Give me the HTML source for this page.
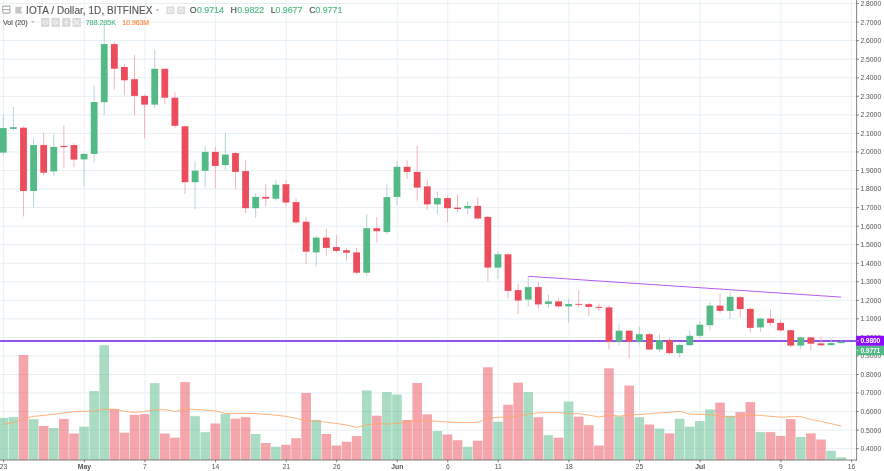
<!DOCTYPE html><html><head><meta charset="utf-8"><title>IOTA / Dollar</title>
<style>html,body{margin:0;padding:0;background:#fff;}body{width:884px;height:471px;overflow:hidden;position:relative;font-family:"Liberation Sans",sans-serif;}svg{position:absolute;left:0;top:0;display:block;will-change:transform;opacity:0.999}text{font-family:"Liberation Sans",sans-serif;}</style></head><body>
<svg width="884" height="471" viewBox="0 0 884 471">
<rect x="0" y="0" width="884" height="471" fill="#ffffff"/>
<g stroke="#e6eef4" stroke-width="1" fill="none">
<line x1="0" y1="448.70" x2="856.6" y2="448.70"/>
<line x1="0" y1="430.15" x2="856.6" y2="430.15"/>
<line x1="0" y1="411.61" x2="856.6" y2="411.61"/>
<line x1="0" y1="393.06" x2="856.6" y2="393.06"/>
<line x1="0" y1="374.51" x2="856.6" y2="374.51"/>
<line x1="0" y1="355.96" x2="856.6" y2="355.96"/>
<line x1="0" y1="337.41" x2="856.6" y2="337.41"/>
<line x1="0" y1="318.87" x2="856.6" y2="318.87"/>
<line x1="0" y1="300.32" x2="856.6" y2="300.32"/>
<line x1="0" y1="281.77" x2="856.6" y2="281.77"/>
<line x1="0" y1="263.22" x2="856.6" y2="263.22"/>
<line x1="0" y1="244.67" x2="856.6" y2="244.67"/>
<line x1="0" y1="226.13" x2="856.6" y2="226.13"/>
<line x1="0" y1="207.58" x2="856.6" y2="207.58"/>
<line x1="0" y1="189.03" x2="856.6" y2="189.03"/>
<line x1="0" y1="170.48" x2="856.6" y2="170.48"/>
<line x1="0" y1="151.93" x2="856.6" y2="151.93"/>
<line x1="0" y1="133.39" x2="856.6" y2="133.39"/>
<line x1="0" y1="114.84" x2="856.6" y2="114.84"/>
<line x1="0" y1="96.29" x2="856.6" y2="96.29"/>
<line x1="0" y1="77.74" x2="856.6" y2="77.74"/>
<line x1="0" y1="59.19" x2="856.6" y2="59.19"/>
<line x1="0" y1="40.65" x2="856.6" y2="40.65"/>
<line x1="0" y1="22.10" x2="856.6" y2="22.10"/>
<line x1="0" y1="3.55" x2="856.6" y2="3.55"/>
<line x1="3.59" y1="0" x2="3.59" y2="460" stroke="#eaf1f6"/>
<line x1="84.35" y1="0" x2="84.35" y2="460" stroke="#eaf1f6"/>
<line x1="144.92" y1="0" x2="144.92" y2="460" stroke="#eaf1f6"/>
<line x1="215.59" y1="0" x2="215.59" y2="460" stroke="#eaf1f6"/>
<line x1="286.25" y1="0" x2="286.25" y2="460" stroke="#eaf1f6"/>
<line x1="336.73" y1="0" x2="336.73" y2="460" stroke="#eaf1f6"/>
<line x1="397.30" y1="0" x2="397.30" y2="460" stroke="#eaf1f6"/>
<line x1="447.77" y1="0" x2="447.77" y2="460" stroke="#eaf1f6"/>
<line x1="498.25" y1="0" x2="498.25" y2="460" stroke="#eaf1f6"/>
<line x1="568.91" y1="0" x2="568.91" y2="460" stroke="#eaf1f6"/>
<line x1="639.57" y1="0" x2="639.57" y2="460" stroke="#eaf1f6"/>
<line x1="700.14" y1="0" x2="700.14" y2="460" stroke="#eaf1f6"/>
<line x1="780.90" y1="0" x2="780.90" y2="460" stroke="#eaf1f6"/>
<line x1="851.57" y1="0" x2="851.57" y2="460" stroke="#eaf1f6"/>
</g>
<g>
<rect x="-1.51" y="417.90" width="9.6" height="42.10" fill="#53b987" fill-opacity="0.5"/>
<rect x="8.58" y="417.20" width="9.6" height="42.80" fill="#53b987" fill-opacity="0.5"/>
<rect x="18.68" y="355.00" width="9.6" height="105.00" fill="#eb4d5c" fill-opacity="0.5"/>
<rect x="28.77" y="419.20" width="9.6" height="40.80" fill="#53b987" fill-opacity="0.5"/>
<rect x="38.87" y="426.00" width="9.6" height="34.00" fill="#eb4d5c" fill-opacity="0.5"/>
<rect x="48.96" y="428.00" width="9.6" height="32.00" fill="#53b987" fill-opacity="0.5"/>
<rect x="59.06" y="418.90" width="9.6" height="41.10" fill="#eb4d5c" fill-opacity="0.5"/>
<rect x="69.16" y="433.50" width="9.6" height="26.50" fill="#eb4d5c" fill-opacity="0.5"/>
<rect x="79.25" y="426.70" width="9.6" height="33.30" fill="#53b987" fill-opacity="0.5"/>
<rect x="89.34" y="391.10" width="9.6" height="68.90" fill="#53b987" fill-opacity="0.5"/>
<rect x="99.44" y="345.30" width="9.6" height="114.70" fill="#53b987" fill-opacity="0.5"/>
<rect x="109.54" y="409.20" width="9.6" height="50.80" fill="#eb4d5c" fill-opacity="0.5"/>
<rect x="119.63" y="432.70" width="9.6" height="27.30" fill="#eb4d5c" fill-opacity="0.5"/>
<rect x="129.72" y="414.90" width="9.6" height="45.10" fill="#eb4d5c" fill-opacity="0.5"/>
<rect x="139.82" y="414.20" width="9.6" height="45.80" fill="#eb4d5c" fill-opacity="0.5"/>
<rect x="149.91" y="383.10" width="9.6" height="76.90" fill="#53b987" fill-opacity="0.5"/>
<rect x="160.01" y="433.50" width="9.6" height="26.50" fill="#eb4d5c" fill-opacity="0.5"/>
<rect x="170.10" y="437.70" width="9.6" height="22.30" fill="#eb4d5c" fill-opacity="0.5"/>
<rect x="180.20" y="382.10" width="9.6" height="77.90" fill="#eb4d5c" fill-opacity="0.5"/>
<rect x="190.29" y="416.20" width="9.6" height="43.80" fill="#53b987" fill-opacity="0.5"/>
<rect x="200.39" y="432.20" width="9.6" height="27.80" fill="#53b987" fill-opacity="0.5"/>
<rect x="210.49" y="423.50" width="9.6" height="36.50" fill="#eb4d5c" fill-opacity="0.5"/>
<rect x="220.58" y="413.90" width="9.6" height="46.10" fill="#53b987" fill-opacity="0.5"/>
<rect x="230.68" y="418.70" width="9.6" height="41.30" fill="#eb4d5c" fill-opacity="0.5"/>
<rect x="240.77" y="417.20" width="9.6" height="42.80" fill="#eb4d5c" fill-opacity="0.5"/>
<rect x="250.87" y="434.00" width="9.6" height="26.00" fill="#53b987" fill-opacity="0.5"/>
<rect x="260.96" y="443.00" width="9.6" height="17.00" fill="#eb4d5c" fill-opacity="0.5"/>
<rect x="271.06" y="446.80" width="9.6" height="13.20" fill="#53b987" fill-opacity="0.5"/>
<rect x="281.15" y="444.80" width="9.6" height="15.20" fill="#eb4d5c" fill-opacity="0.5"/>
<rect x="291.25" y="438.20" width="9.6" height="21.80" fill="#eb4d5c" fill-opacity="0.5"/>
<rect x="301.34" y="392.90" width="9.6" height="67.10" fill="#eb4d5c" fill-opacity="0.5"/>
<rect x="311.44" y="419.90" width="9.6" height="40.10" fill="#53b987" fill-opacity="0.5"/>
<rect x="321.53" y="434.00" width="9.6" height="26.00" fill="#eb4d5c" fill-opacity="0.5"/>
<rect x="331.62" y="445.50" width="9.6" height="14.50" fill="#eb4d5c" fill-opacity="0.5"/>
<rect x="341.72" y="441.70" width="9.6" height="18.30" fill="#eb4d5c" fill-opacity="0.5"/>
<rect x="351.81" y="436.00" width="9.6" height="24.00" fill="#eb4d5c" fill-opacity="0.5"/>
<rect x="361.91" y="390.40" width="9.6" height="69.60" fill="#53b987" fill-opacity="0.5"/>
<rect x="372.00" y="415.70" width="9.6" height="44.30" fill="#eb4d5c" fill-opacity="0.5"/>
<rect x="382.10" y="392.10" width="9.6" height="67.90" fill="#53b987" fill-opacity="0.5"/>
<rect x="392.19" y="394.60" width="9.6" height="65.40" fill="#53b987" fill-opacity="0.5"/>
<rect x="402.29" y="419.90" width="9.6" height="40.10" fill="#eb4d5c" fill-opacity="0.5"/>
<rect x="412.39" y="383.00" width="9.6" height="77.00" fill="#eb4d5c" fill-opacity="0.5"/>
<rect x="422.48" y="414.40" width="9.6" height="45.60" fill="#eb4d5c" fill-opacity="0.5"/>
<rect x="432.58" y="431.00" width="9.6" height="29.00" fill="#53b987" fill-opacity="0.5"/>
<rect x="442.67" y="434.50" width="9.6" height="25.50" fill="#eb4d5c" fill-opacity="0.5"/>
<rect x="452.77" y="440.20" width="9.6" height="19.80" fill="#eb4d5c" fill-opacity="0.5"/>
<rect x="462.86" y="446.80" width="9.6" height="13.20" fill="#53b987" fill-opacity="0.5"/>
<rect x="472.96" y="440.70" width="9.6" height="19.30" fill="#eb4d5c" fill-opacity="0.5"/>
<rect x="483.05" y="367.30" width="9.6" height="92.70" fill="#eb4d5c" fill-opacity="0.5"/>
<rect x="493.15" y="421.70" width="9.6" height="38.30" fill="#53b987" fill-opacity="0.5"/>
<rect x="503.24" y="404.70" width="9.6" height="55.30" fill="#eb4d5c" fill-opacity="0.5"/>
<rect x="513.34" y="382.60" width="9.6" height="77.40" fill="#eb4d5c" fill-opacity="0.5"/>
<rect x="523.43" y="392.10" width="9.6" height="67.90" fill="#53b987" fill-opacity="0.5"/>
<rect x="533.53" y="417.20" width="9.6" height="42.80" fill="#eb4d5c" fill-opacity="0.5"/>
<rect x="543.62" y="435.20" width="9.6" height="24.80" fill="#53b987" fill-opacity="0.5"/>
<rect x="553.72" y="437.70" width="9.6" height="22.30" fill="#eb4d5c" fill-opacity="0.5"/>
<rect x="563.81" y="401.60" width="9.6" height="58.40" fill="#53b987" fill-opacity="0.5"/>
<rect x="573.91" y="416.70" width="9.6" height="43.30" fill="#eb4d5c" fill-opacity="0.5"/>
<rect x="584.00" y="425.20" width="9.6" height="34.80" fill="#eb4d5c" fill-opacity="0.5"/>
<rect x="594.10" y="445.50" width="9.6" height="14.50" fill="#eb4d5c" fill-opacity="0.5"/>
<rect x="604.19" y="368.30" width="9.6" height="91.70" fill="#eb4d5c" fill-opacity="0.5"/>
<rect x="614.29" y="416.40" width="9.6" height="43.60" fill="#53b987" fill-opacity="0.5"/>
<rect x="624.38" y="385.60" width="9.6" height="74.40" fill="#eb4d5c" fill-opacity="0.5"/>
<rect x="634.48" y="417.20" width="9.6" height="42.80" fill="#53b987" fill-opacity="0.5"/>
<rect x="644.57" y="424.50" width="9.6" height="35.50" fill="#eb4d5c" fill-opacity="0.5"/>
<rect x="654.67" y="428.50" width="9.6" height="31.50" fill="#53b987" fill-opacity="0.5"/>
<rect x="664.76" y="433.40" width="9.6" height="26.60" fill="#eb4d5c" fill-opacity="0.5"/>
<rect x="674.86" y="418.80" width="9.6" height="41.20" fill="#53b987" fill-opacity="0.5"/>
<rect x="684.95" y="426.70" width="9.6" height="33.30" fill="#53b987" fill-opacity="0.5"/>
<rect x="695.05" y="421.10" width="9.6" height="38.90" fill="#53b987" fill-opacity="0.5"/>
<rect x="705.14" y="409.40" width="9.6" height="50.60" fill="#53b987" fill-opacity="0.5"/>
<rect x="715.24" y="402.60" width="9.6" height="57.40" fill="#eb4d5c" fill-opacity="0.5"/>
<rect x="725.33" y="415.80" width="9.6" height="44.20" fill="#53b987" fill-opacity="0.5"/>
<rect x="735.43" y="412.10" width="9.6" height="47.90" fill="#eb4d5c" fill-opacity="0.5"/>
<rect x="745.52" y="402.10" width="9.6" height="57.90" fill="#eb4d5c" fill-opacity="0.5"/>
<rect x="755.62" y="432.10" width="9.6" height="27.90" fill="#53b987" fill-opacity="0.5"/>
<rect x="765.71" y="432.10" width="9.6" height="27.90" fill="#eb4d5c" fill-opacity="0.5"/>
<rect x="775.81" y="435.90" width="9.6" height="24.10" fill="#eb4d5c" fill-opacity="0.5"/>
<rect x="785.90" y="419.10" width="9.6" height="40.90" fill="#eb4d5c" fill-opacity="0.5"/>
<rect x="796.00" y="437.00" width="9.6" height="23.00" fill="#53b987" fill-opacity="0.5"/>
<rect x="806.09" y="433.40" width="9.6" height="26.60" fill="#eb4d5c" fill-opacity="0.5"/>
<rect x="816.19" y="439.50" width="9.6" height="20.50" fill="#eb4d5c" fill-opacity="0.5"/>
<rect x="826.28" y="450.75" width="9.6" height="9.25" fill="#53b987" fill-opacity="0.5"/>
<rect x="836.38" y="457.25" width="9.6" height="2.75" fill="#53b987" fill-opacity="0.5"/>
</g>
<polyline fill="none" stroke="#ffa566" stroke-width="0.85" stroke-linejoin="round" points="3.4,424.2 13.5,422.7 23.6,418.4 33.7,416.4 43.8,415.4 53.9,414.2 64.0,412.9 74.1,411.7 84.2,411.4 94.3,410.9 104.4,409.2 114.5,409.2 124.6,411.4 134.7,412.4 144.8,411.4 154.9,409.7 165.0,409.7 175.1,411.4 185.2,409.2 195.3,409.4 205.4,410.2 215.5,410.9 225.6,413.4 235.7,413.4 245.8,413.4 255.9,413.7 266.0,414.4 276.1,415.2 286.2,416.4 296.3,418.4 306.4,420.9 316.5,421.2 326.6,422.2 336.7,423.5 346.8,425.0 356.9,427.5 367.0,424.7 377.1,423.7 387.2,424.0 397.3,423.5 407.4,421.9 417.5,420.7 427.6,420.7 437.7,421.4 447.8,422.0 457.9,422.5 468.0,422.7 478.1,422.2 488.2,418.7 498.3,417.2 508.4,417.4 518.5,415.9 528.6,414.2 538.7,412.7 548.8,412.7 558.9,412.7 569.0,413.7 579.1,413.7 589.2,415.2 599.3,417.0 609.4,414.9 619.5,416.2 629.6,414.9 639.7,414.4 649.8,413.7 659.9,412.9 670.0,412.2 680.1,411.4 690.2,414.2 700.3,414.4 710.4,414.7 720.5,416.2 730.6,416.9 740.7,416.2 750.8,414.9 760.9,415.4 771.0,416.4 781.1,417.2 791.2,416.7 801.3,416.7 811.4,419.7 821.5,421.5 831.6,423.8 841.2,426.0"/>
<line x1="0" y1="341" x2="856.6" y2="341" stroke="#9650ef" stroke-width="1.8"/>
<line x1="528.1" y1="276.3" x2="841" y2="297.1" stroke="#b45cf3" stroke-width="1"/>
<g>
<line x1="3.29" y1="115.00" x2="3.29" y2="155.60" stroke="#a9cdd3" stroke-width="0.85"/>
<rect x="-0.11" y="128.10" width="6.8" height="24.50" fill="#53b987"/>
<line x1="13.38" y1="107.00" x2="13.38" y2="130.60" stroke="#a9cdd3" stroke-width="0.85"/>
<rect x="9.98" y="127.20" width="6.8" height="1.70" fill="#53b987"/>
<line x1="23.48" y1="126.30" x2="23.48" y2="216.50" stroke="#f5a6ae" stroke-width="0.85"/>
<rect x="20.08" y="127.70" width="6.8" height="63.30" fill="#eb4d5c"/>
<line x1="33.57" y1="138.10" x2="33.57" y2="207.30" stroke="#a9cdd3" stroke-width="0.85"/>
<rect x="30.17" y="145.10" width="6.8" height="45.90" fill="#53b987"/>
<line x1="43.67" y1="132.60" x2="43.67" y2="175.20" stroke="#f5a6ae" stroke-width="0.85"/>
<rect x="40.27" y="145.10" width="6.8" height="27.60" fill="#eb4d5c"/>
<line x1="53.76" y1="134.60" x2="53.76" y2="175.70" stroke="#a9cdd3" stroke-width="0.85"/>
<rect x="50.36" y="146.90" width="6.8" height="24.50" fill="#53b987"/>
<line x1="63.86" y1="125.00" x2="63.86" y2="167.70" stroke="#f5a6ae" stroke-width="0.85"/>
<rect x="60.46" y="145.90" width="6.8" height="1.20" fill="#eb4d5c"/>
<line x1="73.95" y1="143.10" x2="73.95" y2="167.20" stroke="#f5a6ae" stroke-width="0.85"/>
<rect x="70.55" y="145.10" width="6.8" height="14.50" fill="#eb4d5c"/>
<line x1="84.05" y1="153.10" x2="84.05" y2="186.50" stroke="#a9cdd3" stroke-width="0.85"/>
<rect x="80.65" y="153.90" width="6.8" height="5.50" fill="#53b987"/>
<line x1="94.14" y1="85.70" x2="94.14" y2="162.70" stroke="#a9cdd3" stroke-width="0.85"/>
<rect x="90.74" y="102.00" width="6.8" height="51.90" fill="#53b987"/>
<line x1="104.24" y1="24.00" x2="104.24" y2="115.20" stroke="#a9cdd3" stroke-width="0.85"/>
<rect x="100.84" y="44.10" width="6.8" height="58.10" fill="#53b987"/>
<line x1="114.34" y1="41.90" x2="114.34" y2="89.50" stroke="#f5a6ae" stroke-width="0.85"/>
<rect x="110.94" y="44.10" width="6.8" height="24.60" fill="#eb4d5c"/>
<line x1="124.43" y1="64.00" x2="124.43" y2="95.40" stroke="#f5a6ae" stroke-width="0.85"/>
<rect x="121.03" y="67.00" width="6.8" height="13.30" fill="#eb4d5c"/>
<line x1="134.53" y1="54.80" x2="134.53" y2="115.20" stroke="#f5a6ae" stroke-width="0.85"/>
<rect x="131.12" y="79.20" width="6.8" height="16.70" fill="#eb4d5c"/>
<line x1="144.62" y1="94.50" x2="144.62" y2="138.80" stroke="#f5a6ae" stroke-width="0.85"/>
<rect x="141.22" y="95.90" width="6.8" height="8.70" fill="#eb4d5c"/>
<line x1="154.72" y1="49.50" x2="154.72" y2="108.10" stroke="#a9cdd3" stroke-width="0.85"/>
<rect x="151.31" y="68.80" width="6.8" height="35.80" fill="#53b987"/>
<line x1="164.81" y1="68.80" x2="164.81" y2="104.00" stroke="#f5a6ae" stroke-width="0.85"/>
<rect x="161.41" y="68.80" width="6.8" height="28.90" fill="#eb4d5c"/>
<line x1="174.91" y1="92.10" x2="174.91" y2="127.80" stroke="#f5a6ae" stroke-width="0.85"/>
<rect x="171.50" y="97.70" width="6.8" height="28.10" fill="#eb4d5c"/>
<line x1="185.00" y1="125.80" x2="185.00" y2="194.00" stroke="#f5a6ae" stroke-width="0.85"/>
<rect x="181.60" y="126.30" width="6.8" height="55.90" fill="#eb4d5c"/>
<line x1="195.09" y1="160.90" x2="195.09" y2="209.00" stroke="#a9cdd3" stroke-width="0.85"/>
<rect x="191.69" y="170.70" width="6.8" height="11.50" fill="#53b987"/>
<line x1="205.19" y1="146.30" x2="205.19" y2="187.20" stroke="#a9cdd3" stroke-width="0.85"/>
<rect x="201.79" y="151.90" width="6.8" height="18.90" fill="#53b987"/>
<line x1="215.29" y1="146.70" x2="215.29" y2="188.60" stroke="#f5a6ae" stroke-width="0.85"/>
<rect x="211.89" y="151.90" width="6.8" height="14.00" fill="#eb4d5c"/>
<line x1="225.38" y1="133.00" x2="225.38" y2="169.60" stroke="#a9cdd3" stroke-width="0.85"/>
<rect x="221.98" y="154.60" width="6.8" height="10.50" fill="#53b987"/>
<line x1="235.48" y1="152.00" x2="235.48" y2="189.40" stroke="#f5a6ae" stroke-width="0.85"/>
<rect x="232.08" y="153.10" width="6.8" height="18.80" fill="#eb4d5c"/>
<line x1="245.57" y1="159.60" x2="245.57" y2="213.20" stroke="#f5a6ae" stroke-width="0.85"/>
<rect x="242.17" y="171.10" width="6.8" height="37.10" fill="#eb4d5c"/>
<line x1="255.67" y1="193.20" x2="255.67" y2="217.70" stroke="#a9cdd3" stroke-width="0.85"/>
<rect x="252.27" y="196.90" width="6.8" height="11.30" fill="#53b987"/>
<line x1="265.76" y1="183.90" x2="265.76" y2="206.50" stroke="#f5a6ae" stroke-width="0.85"/>
<rect x="262.36" y="196.90" width="6.8" height="1.80" fill="#eb4d5c"/>
<line x1="275.86" y1="179.60" x2="275.86" y2="200.70" stroke="#a9cdd3" stroke-width="0.85"/>
<rect x="272.46" y="184.70" width="6.8" height="14.00" fill="#53b987"/>
<line x1="285.95" y1="180.20" x2="285.95" y2="206.40" stroke="#f5a6ae" stroke-width="0.85"/>
<rect x="282.55" y="184.20" width="6.8" height="18.30" fill="#eb4d5c"/>
<line x1="296.05" y1="198.20" x2="296.05" y2="223.90" stroke="#f5a6ae" stroke-width="0.85"/>
<rect x="292.65" y="202.10" width="6.8" height="20.30" fill="#eb4d5c"/>
<line x1="306.14" y1="217.10" x2="306.14" y2="264.40" stroke="#f5a6ae" stroke-width="0.85"/>
<rect x="302.74" y="221.70" width="6.8" height="30.00" fill="#eb4d5c"/>
<line x1="316.24" y1="235.60" x2="316.24" y2="266.40" stroke="#a9cdd3" stroke-width="0.85"/>
<rect x="312.84" y="237.60" width="6.8" height="14.80" fill="#53b987"/>
<line x1="326.33" y1="228.50" x2="326.33" y2="255.70" stroke="#f5a6ae" stroke-width="0.85"/>
<rect x="322.93" y="237.60" width="6.8" height="10.30" fill="#eb4d5c"/>
<line x1="336.43" y1="235.20" x2="336.43" y2="252.70" stroke="#f5a6ae" stroke-width="0.85"/>
<rect x="333.03" y="247.10" width="6.8" height="3.80" fill="#eb4d5c"/>
<line x1="346.52" y1="248.40" x2="346.52" y2="260.70" stroke="#f5a6ae" stroke-width="0.85"/>
<rect x="343.12" y="250.20" width="6.8" height="2.50" fill="#eb4d5c"/>
<line x1="356.62" y1="248.10" x2="356.62" y2="274.50" stroke="#f5a6ae" stroke-width="0.85"/>
<rect x="353.22" y="252.40" width="6.8" height="20.30" fill="#eb4d5c"/>
<line x1="366.71" y1="214.20" x2="366.71" y2="276.00" stroke="#a9cdd3" stroke-width="0.85"/>
<rect x="363.31" y="228.20" width="6.8" height="44.50" fill="#53b987"/>
<line x1="376.81" y1="217.10" x2="376.81" y2="242.60" stroke="#f5a6ae" stroke-width="0.85"/>
<rect x="373.41" y="228.20" width="6.8" height="3.00" fill="#eb4d5c"/>
<line x1="386.90" y1="184.50" x2="386.90" y2="234.60" stroke="#a9cdd3" stroke-width="0.85"/>
<rect x="383.50" y="197.10" width="6.8" height="35.00" fill="#53b987"/>
<line x1="397.00" y1="161.30" x2="397.00" y2="205.20" stroke="#a9cdd3" stroke-width="0.85"/>
<rect x="393.60" y="166.80" width="6.8" height="30.10" fill="#53b987"/>
<line x1="407.09" y1="160.10" x2="407.09" y2="179.10" stroke="#f5a6ae" stroke-width="0.85"/>
<rect x="403.69" y="166.80" width="6.8" height="5.10" fill="#eb4d5c"/>
<line x1="417.19" y1="145.80" x2="417.19" y2="200.90" stroke="#f5a6ae" stroke-width="0.85"/>
<rect x="413.79" y="171.90" width="6.8" height="15.70" fill="#eb4d5c"/>
<line x1="427.28" y1="179.60" x2="427.28" y2="210.00" stroke="#f5a6ae" stroke-width="0.85"/>
<rect x="423.88" y="186.40" width="6.8" height="18.00" fill="#eb4d5c"/>
<line x1="437.38" y1="191.60" x2="437.38" y2="214.10" stroke="#a9cdd3" stroke-width="0.85"/>
<rect x="433.98" y="198.10" width="6.8" height="6.30" fill="#53b987"/>
<line x1="447.47" y1="195.60" x2="447.47" y2="222.20" stroke="#f5a6ae" stroke-width="0.85"/>
<rect x="444.07" y="198.10" width="6.8" height="10.10" fill="#eb4d5c"/>
<line x1="457.57" y1="194.40" x2="457.57" y2="212.40" stroke="#f5a6ae" stroke-width="0.85"/>
<rect x="454.17" y="207.60" width="6.8" height="1.40" fill="#eb4d5c"/>
<line x1="467.66" y1="201.10" x2="467.66" y2="213.90" stroke="#a9cdd3" stroke-width="0.85"/>
<rect x="464.26" y="205.90" width="6.8" height="2.50" fill="#53b987"/>
<line x1="477.76" y1="197.30" x2="477.76" y2="219.50" stroke="#f5a6ae" stroke-width="0.85"/>
<rect x="474.36" y="205.90" width="6.8" height="12.60" fill="#eb4d5c"/>
<line x1="487.85" y1="216.00" x2="487.85" y2="281.40" stroke="#f5a6ae" stroke-width="0.85"/>
<rect x="484.45" y="216.90" width="6.8" height="50.70" fill="#eb4d5c"/>
<line x1="497.95" y1="251.10" x2="497.95" y2="278.90" stroke="#a9cdd3" stroke-width="0.85"/>
<rect x="494.55" y="254.30" width="6.8" height="13.30" fill="#53b987"/>
<line x1="508.04" y1="253.50" x2="508.04" y2="298.40" stroke="#f5a6ae" stroke-width="0.85"/>
<rect x="504.64" y="254.30" width="6.8" height="36.60" fill="#eb4d5c"/>
<line x1="518.13" y1="283.80" x2="518.13" y2="313.90" stroke="#f5a6ae" stroke-width="0.85"/>
<rect x="514.74" y="290.10" width="6.8" height="10.50" fill="#eb4d5c"/>
<line x1="528.23" y1="276.30" x2="528.23" y2="306.40" stroke="#a9cdd3" stroke-width="0.85"/>
<rect x="524.83" y="287.10" width="6.8" height="12.50" fill="#53b987"/>
<line x1="538.33" y1="282.10" x2="538.33" y2="308.90" stroke="#f5a6ae" stroke-width="0.85"/>
<rect x="534.93" y="287.10" width="6.8" height="17.30" fill="#eb4d5c"/>
<line x1="548.42" y1="294.60" x2="548.42" y2="308.40" stroke="#a9cdd3" stroke-width="0.85"/>
<rect x="545.02" y="301.40" width="6.8" height="2.50" fill="#53b987"/>
<line x1="558.51" y1="297.60" x2="558.51" y2="308.10" stroke="#f5a6ae" stroke-width="0.85"/>
<rect x="555.12" y="301.40" width="6.8" height="5.00" fill="#eb4d5c"/>
<line x1="568.61" y1="298.40" x2="568.61" y2="322.70" stroke="#a9cdd3" stroke-width="0.85"/>
<rect x="565.21" y="304.10" width="6.8" height="2.30" fill="#53b987"/>
<line x1="578.71" y1="290.10" x2="578.71" y2="307.10" stroke="#f5a6ae" stroke-width="0.85"/>
<rect x="575.31" y="303.90" width="6.8" height="0.90" fill="#eb4d5c"/>
<line x1="588.80" y1="302.60" x2="588.80" y2="316.40" stroke="#f5a6ae" stroke-width="0.85"/>
<rect x="585.40" y="304.10" width="6.8" height="2.80" fill="#eb4d5c"/>
<line x1="598.89" y1="303.40" x2="598.89" y2="310.90" stroke="#f5a6ae" stroke-width="0.85"/>
<rect x="595.50" y="306.90" width="6.8" height="1.00" fill="#eb4d5c"/>
<line x1="608.99" y1="305.10" x2="608.99" y2="349.70" stroke="#f5a6ae" stroke-width="0.85"/>
<rect x="605.59" y="307.40" width="6.8" height="34.10" fill="#eb4d5c"/>
<line x1="619.09" y1="324.40" x2="619.09" y2="345.20" stroke="#a9cdd3" stroke-width="0.85"/>
<rect x="615.69" y="330.70" width="6.8" height="10.80" fill="#53b987"/>
<line x1="629.18" y1="329.70" x2="629.18" y2="358.30" stroke="#f5a6ae" stroke-width="0.85"/>
<rect x="625.78" y="330.70" width="6.8" height="10.80" fill="#eb4d5c"/>
<line x1="639.27" y1="326.40" x2="639.27" y2="344.70" stroke="#a9cdd3" stroke-width="0.85"/>
<rect x="635.88" y="334.20" width="6.8" height="7.30" fill="#53b987"/>
<line x1="649.37" y1="332.70" x2="649.37" y2="350.30" stroke="#f5a6ae" stroke-width="0.85"/>
<rect x="645.97" y="334.20" width="6.8" height="15.30" fill="#eb4d5c"/>
<line x1="659.47" y1="334.00" x2="659.47" y2="352.30" stroke="#a9cdd3" stroke-width="0.85"/>
<rect x="656.07" y="340.20" width="6.8" height="9.30" fill="#53b987"/>
<line x1="669.56" y1="337.70" x2="669.56" y2="354.60" stroke="#f5a6ae" stroke-width="0.85"/>
<rect x="666.16" y="340.20" width="6.8" height="12.90" fill="#eb4d5c"/>
<line x1="679.65" y1="343.10" x2="679.65" y2="357.70" stroke="#a9cdd3" stroke-width="0.85"/>
<rect x="676.25" y="345.00" width="6.8" height="8.10" fill="#53b987"/>
<line x1="689.75" y1="330.70" x2="689.75" y2="346.00" stroke="#a9cdd3" stroke-width="0.85"/>
<rect x="686.35" y="335.80" width="6.8" height="9.30" fill="#53b987"/>
<line x1="699.85" y1="321.10" x2="699.85" y2="338.00" stroke="#a9cdd3" stroke-width="0.85"/>
<rect x="696.45" y="324.70" width="6.8" height="11.10" fill="#53b987"/>
<line x1="709.94" y1="302.10" x2="709.94" y2="330.90" stroke="#a9cdd3" stroke-width="0.85"/>
<rect x="706.54" y="305.60" width="6.8" height="19.60" fill="#53b987"/>
<line x1="720.03" y1="293.80" x2="720.03" y2="313.40" stroke="#f5a6ae" stroke-width="0.85"/>
<rect x="716.63" y="305.60" width="6.8" height="5.30" fill="#eb4d5c"/>
<line x1="730.13" y1="291.30" x2="730.13" y2="318.90" stroke="#a9cdd3" stroke-width="0.85"/>
<rect x="726.73" y="296.80" width="6.8" height="14.10" fill="#53b987"/>
<line x1="740.23" y1="296.30" x2="740.23" y2="317.60" stroke="#f5a6ae" stroke-width="0.85"/>
<rect x="736.83" y="297.10" width="6.8" height="12.00" fill="#eb4d5c"/>
<line x1="750.32" y1="307.10" x2="750.32" y2="332.70" stroke="#f5a6ae" stroke-width="0.85"/>
<rect x="746.92" y="308.90" width="6.8" height="19.00" fill="#eb4d5c"/>
<line x1="760.41" y1="318.00" x2="760.41" y2="332.20" stroke="#a9cdd3" stroke-width="0.85"/>
<rect x="757.01" y="318.60" width="6.8" height="8.80" fill="#53b987"/>
<line x1="770.51" y1="309.60" x2="770.51" y2="325.70" stroke="#f5a6ae" stroke-width="0.85"/>
<rect x="767.11" y="318.60" width="6.8" height="4.30" fill="#eb4d5c"/>
<line x1="780.61" y1="319.40" x2="780.61" y2="331.40" stroke="#f5a6ae" stroke-width="0.85"/>
<rect x="777.21" y="322.90" width="6.8" height="7.50" fill="#eb4d5c"/>
<line x1="790.70" y1="329.40" x2="790.70" y2="347.60" stroke="#f5a6ae" stroke-width="0.85"/>
<rect x="787.30" y="330.20" width="6.8" height="15.40" fill="#eb4d5c"/>
<line x1="800.79" y1="336.60" x2="800.79" y2="349.30" stroke="#a9cdd3" stroke-width="0.85"/>
<rect x="797.39" y="337.40" width="6.8" height="8.20" fill="#53b987"/>
<line x1="810.89" y1="337.00" x2="810.89" y2="350.50" stroke="#f5a6ae" stroke-width="0.85"/>
<rect x="807.49" y="337.40" width="6.8" height="6.30" fill="#eb4d5c"/>
<line x1="820.99" y1="336.60" x2="820.99" y2="345.70" stroke="#f5a6ae" stroke-width="0.85"/>
<rect x="817.59" y="343.40" width="6.8" height="1.90" fill="#eb4d5c"/>
<line x1="831.08" y1="338.40" x2="831.08" y2="345.70" stroke="#a9cdd3" stroke-width="0.85"/>
<rect x="827.68" y="343.10" width="6.8" height="2.00" fill="#53b987"/>
<line x1="841.17" y1="340.70" x2="841.17" y2="343.50" stroke="#a9cdd3" stroke-width="0.85"/>
<rect x="837.77" y="341.70" width="6.8" height="1.40" fill="#53b987"/>
</g>
<line x1="0" y1="341.8" x2="856" y2="341.8" stroke="#53b987" stroke-width="0.6" stroke-dasharray="0.8 1.2" opacity="0.55"/>
<rect x="857.0" y="0" width="28" height="471" fill="#fff"/>
<rect x="0" y="460.4" width="884" height="12" fill="#fff"/>
<line x1="856.60" y1="0" x2="856.60" y2="460.4" stroke="#6e6e6e" stroke-width="0.85"/>
<line x1="0" y1="460.0" x2="857.00" y2="460.0" stroke="#6e6e6e" stroke-width="0.85"/>
<g fill="#555" font-size="6.8px">
<line x1="856.6" y1="448.70" x2="858.8" y2="448.70" stroke="#5a5a5a" stroke-width="0.8"/>
<text x="860.4" y="451.10">0.4000</text>
<line x1="856.6" y1="430.15" x2="858.8" y2="430.15" stroke="#5a5a5a" stroke-width="0.8"/>
<text x="860.4" y="432.55">0.5000</text>
<line x1="856.6" y1="411.61" x2="858.8" y2="411.61" stroke="#5a5a5a" stroke-width="0.8"/>
<text x="860.4" y="414.01">0.6000</text>
<line x1="856.6" y1="393.06" x2="858.8" y2="393.06" stroke="#5a5a5a" stroke-width="0.8"/>
<text x="860.4" y="395.46">0.7000</text>
<line x1="856.6" y1="374.51" x2="858.8" y2="374.51" stroke="#5a5a5a" stroke-width="0.8"/>
<text x="860.4" y="376.91">0.8000</text>
<line x1="856.6" y1="355.96" x2="858.8" y2="355.96" stroke="#5a5a5a" stroke-width="0.8"/>
<text x="860.4" y="358.36">0.9000</text>
<line x1="856.6" y1="337.41" x2="858.8" y2="337.41" stroke="#5a5a5a" stroke-width="0.8"/>
<text x="860.4" y="339.81">1.0000</text>
<line x1="856.6" y1="318.87" x2="858.8" y2="318.87" stroke="#5a5a5a" stroke-width="0.8"/>
<text x="860.4" y="321.27">1.1000</text>
<line x1="856.6" y1="300.32" x2="858.8" y2="300.32" stroke="#5a5a5a" stroke-width="0.8"/>
<text x="860.4" y="302.72">1.2000</text>
<line x1="856.6" y1="281.77" x2="858.8" y2="281.77" stroke="#5a5a5a" stroke-width="0.8"/>
<text x="860.4" y="284.17">1.3000</text>
<line x1="856.6" y1="263.22" x2="858.8" y2="263.22" stroke="#5a5a5a" stroke-width="0.8"/>
<text x="860.4" y="265.62">1.4000</text>
<line x1="856.6" y1="244.67" x2="858.8" y2="244.67" stroke="#5a5a5a" stroke-width="0.8"/>
<text x="860.4" y="247.07">1.5000</text>
<line x1="856.6" y1="226.13" x2="858.8" y2="226.13" stroke="#5a5a5a" stroke-width="0.8"/>
<text x="860.4" y="228.53">1.6000</text>
<line x1="856.6" y1="207.58" x2="858.8" y2="207.58" stroke="#5a5a5a" stroke-width="0.8"/>
<text x="860.4" y="209.98">1.7000</text>
<line x1="856.6" y1="189.03" x2="858.8" y2="189.03" stroke="#5a5a5a" stroke-width="0.8"/>
<text x="860.4" y="191.43">1.8000</text>
<line x1="856.6" y1="170.48" x2="858.8" y2="170.48" stroke="#5a5a5a" stroke-width="0.8"/>
<text x="860.4" y="172.88">1.9000</text>
<line x1="856.6" y1="151.93" x2="858.8" y2="151.93" stroke="#5a5a5a" stroke-width="0.8"/>
<text x="860.4" y="154.33">2.0000</text>
<line x1="856.6" y1="133.39" x2="858.8" y2="133.39" stroke="#5a5a5a" stroke-width="0.8"/>
<text x="860.4" y="135.79">2.1000</text>
<line x1="856.6" y1="114.84" x2="858.8" y2="114.84" stroke="#5a5a5a" stroke-width="0.8"/>
<text x="860.4" y="117.24">2.2000</text>
<line x1="856.6" y1="96.29" x2="858.8" y2="96.29" stroke="#5a5a5a" stroke-width="0.8"/>
<text x="860.4" y="98.69">2.3000</text>
<line x1="856.6" y1="77.74" x2="858.8" y2="77.74" stroke="#5a5a5a" stroke-width="0.8"/>
<text x="860.4" y="80.14">2.4000</text>
<line x1="856.6" y1="59.19" x2="858.8" y2="59.19" stroke="#5a5a5a" stroke-width="0.8"/>
<text x="860.4" y="61.59">2.5000</text>
<line x1="856.6" y1="40.65" x2="858.8" y2="40.65" stroke="#5a5a5a" stroke-width="0.8"/>
<text x="860.4" y="43.05">2.6000</text>
<line x1="856.6" y1="22.10" x2="858.8" y2="22.10" stroke="#5a5a5a" stroke-width="0.8"/>
<text x="860.4" y="24.50">2.7000</text>
<line x1="856.6" y1="3.55" x2="858.8" y2="3.55" stroke="#5a5a5a" stroke-width="0.8"/>
<text x="860.4" y="5.95">2.8000</text>
<line x1="3.59" y1="460" x2="3.59" y2="462.2" stroke="#5a5a5a" stroke-width="0.8"/>
<text x="3.59" y="469.3" text-anchor="middle">23</text>
<line x1="84.35" y1="460" x2="84.35" y2="462.2" stroke="#5a5a5a" stroke-width="0.8"/>
<text x="84.35" y="469.3" text-anchor="middle" font-weight="bold">May</text>
<line x1="144.92" y1="460" x2="144.92" y2="462.2" stroke="#5a5a5a" stroke-width="0.8"/>
<text x="144.92" y="469.3" text-anchor="middle">7</text>
<line x1="215.59" y1="460" x2="215.59" y2="462.2" stroke="#5a5a5a" stroke-width="0.8"/>
<text x="215.59" y="469.3" text-anchor="middle">14</text>
<line x1="286.25" y1="460" x2="286.25" y2="462.2" stroke="#5a5a5a" stroke-width="0.8"/>
<text x="286.25" y="469.3" text-anchor="middle">21</text>
<line x1="336.73" y1="460" x2="336.73" y2="462.2" stroke="#5a5a5a" stroke-width="0.8"/>
<text x="336.73" y="469.3" text-anchor="middle">26</text>
<line x1="397.30" y1="460" x2="397.30" y2="462.2" stroke="#5a5a5a" stroke-width="0.8"/>
<text x="397.30" y="469.3" text-anchor="middle" font-weight="bold">Jun</text>
<line x1="447.77" y1="460" x2="447.77" y2="462.2" stroke="#5a5a5a" stroke-width="0.8"/>
<text x="447.77" y="469.3" text-anchor="middle">6</text>
<line x1="498.25" y1="460" x2="498.25" y2="462.2" stroke="#5a5a5a" stroke-width="0.8"/>
<text x="498.25" y="469.3" text-anchor="middle">11</text>
<line x1="568.91" y1="460" x2="568.91" y2="462.2" stroke="#5a5a5a" stroke-width="0.8"/>
<text x="568.91" y="469.3" text-anchor="middle">18</text>
<line x1="639.57" y1="460" x2="639.57" y2="462.2" stroke="#5a5a5a" stroke-width="0.8"/>
<text x="639.57" y="469.3" text-anchor="middle">25</text>
<line x1="700.14" y1="460" x2="700.14" y2="462.2" stroke="#5a5a5a" stroke-width="0.8"/>
<text x="700.14" y="469.3" text-anchor="middle" font-weight="bold">Jul</text>
<line x1="780.90" y1="460" x2="780.90" y2="462.2" stroke="#5a5a5a" stroke-width="0.8"/>
<text x="780.90" y="469.3" text-anchor="middle">9</text>
<line x1="851.57" y1="460" x2="851.57" y2="462.2" stroke="#5a5a5a" stroke-width="0.8"/>
<text x="851.57" y="469.3" text-anchor="middle">16</text>
</g>
<rect x="856.2" y="335.8" width="28" height="10.05" fill="#8c0cfa"/>
<rect x="856.2" y="345.85" width="28" height="9.4" fill="#53b987"/>
<line x1="856.8" y1="340.9" x2="858.6" y2="340.9" stroke="#fff" stroke-width="0.7"/>
<line x1="856.8" y1="350.5" x2="858.6" y2="350.5" stroke="#fff" stroke-width="0.7"/>
<g fill="#fff" font-size="6.65px" font-weight="bold" letter-spacing="-0.08"><text x="860.4" y="343.3">0.9800</text><text x="860.4" y="352.9">0.9771</text></g>
<g fill="#555">
<rect x="2.7" y="6.1" width="7.3" height="7" fill="#fff" stroke="#adadad" stroke-width="1.1" rx="0.9"/>
<line x1="3" y1="9.6" x2="9.8" y2="9.6" stroke="#adadad" stroke-width="1.1"/>
<path d="M15.3 6.7 H22.3 L20.6 10.05 L22.3 13.4 H15.3 Z" fill="#c6c6c6"/>
<text id="ttl" x="26.1" y="13.5" font-size="10px" fill="#585858" stroke="#585858" stroke-width="0.15" textLength="126.4" lengthAdjust="spacing">IOTA / Dollar, 1D, BITFINEX</text>
<path d="M155.4 9.2 h4 l-2 2.2 z" fill="#c0c0c0"/>
<rect x="166.5" y="6.4" width="7.8" height="7.8" fill="#dcdcdc"/><circle cx="170.4" cy="10.3" r="2" fill="none" stroke="#fff" stroke-width="0.8"/>
<rect x="177.2" y="6.4" width="7.8" height="7.8" fill="#dcdcdc"/><circle cx="181.1" cy="10.3" r="2" fill="none" stroke="#fff" stroke-width="0.8"/>
<g font-size="8.8px" stroke-width="0.18"><text x="189.8" y="13.3" fill="#555" stroke="#555">O</text><text x="197" y="13.3" fill="#53b987" stroke="#53b987">0.9714</text><text x="230.4" y="13.3" fill="#555" stroke="#555">H</text><text x="237.2" y="13.3" fill="#53b987" stroke="#53b987">0.9822</text><text x="270.7" y="13.3" fill="#555" stroke="#555">L</text><text x="275.5" y="13.3" fill="#53b987" stroke="#53b987">0.9677</text><text x="309.2" y="13.3" fill="#555" stroke="#555">C</text><text x="315.4" y="13.3" fill="#53b987" stroke="#53b987">0.9771</text></g>
<text x="2.9" y="24.7" font-size="7.2px" stroke="#555" stroke-width="0.12">Vol (20)</text>
<path d="M30.9 21.1 h3.8 l-1.9 2 z" fill="#bdbdbd"/>
<rect x="41.1" y="17.9" width="8.3" height="9" fill="#d9d9d9"/>
<rect x="51.5" y="17.9" width="8.3" height="9" fill="#d9d9d9"/>
<rect x="62.1" y="17.9" width="8.3" height="9" fill="#d9d9d9"/>
<rect x="72.5" y="17.9" width="8.3" height="9" fill="#d9d9d9"/>
<ellipse cx="45.25" cy="22.4" rx="2.7" ry="1.8" fill="none" stroke="#f4f4f4" stroke-width="0.8"/><circle cx="45.25" cy="22.4" r="0.7" fill="#f4f4f4"/>
<circle cx="55.65" cy="22.4" r="1.7" fill="none" stroke="#f4f4f4" stroke-width="1.1"/><path d="M55.65 19.4v6M52.65 22.4h6" stroke="#f4f4f4" stroke-width="0.7" stroke-dasharray="1 4"/>
<path d="M66.25 19.6 v5.6 M64.4 22.4 h3.7" fill="none" stroke="#f4f4f4" stroke-width="1.2"/>
<path d="M73.9 19.6 l5.5 5.6 M79.4 19.6 l-5.5 5.6" fill="none" stroke="#f4f4f4" stroke-width="1.2"/>
<text x="85.7" y="25" font-size="7.05px" fill="#53b987" stroke="#53b987" stroke-width="0.15">788.285K</text>
<text x="122.3" y="25" font-size="6.9px" fill="#ff8a3d" stroke="#ff8a3d" stroke-width="0.15">10.963M</text>
</g>
</svg></body></html>
